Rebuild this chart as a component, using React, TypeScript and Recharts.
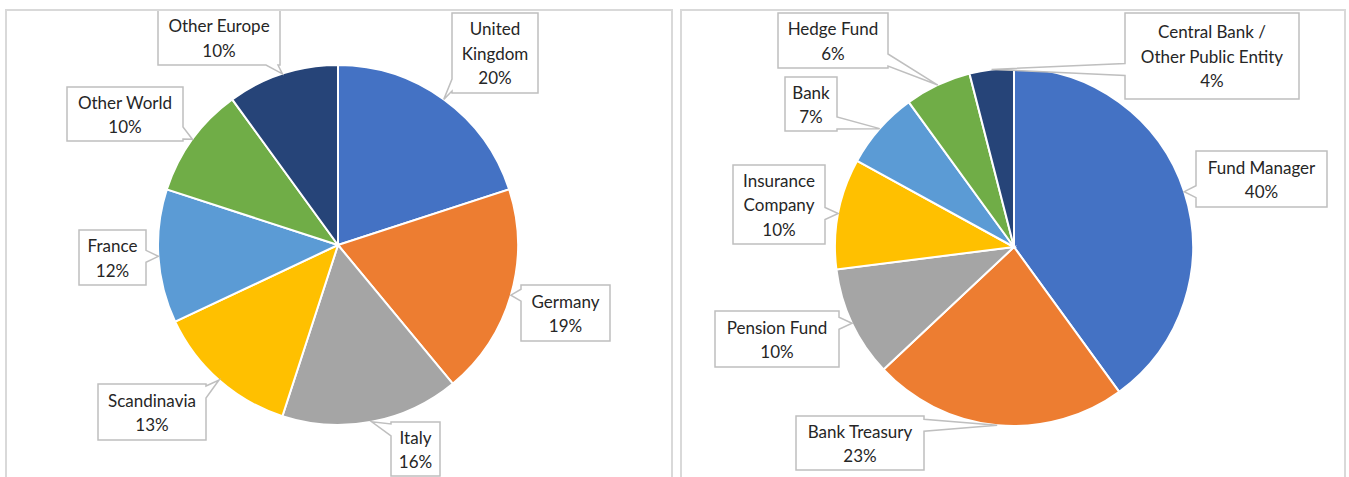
import React from 'react';
import { PieChart, Pie, Cell } from 'recharts';

// Left chart: investor split by region (%)
const regionLabels = [['United', 'Kingdom'], ['Germany'], ['Italy'], ['Scandinavia'], ['France'], ['Other World'], ['Other Europe']];
const regionShares = [20, 19, 16, 13, 12, 10, 10];

// Right chart: investor split by type (%)
const investorLabels = [['Fund Manager'], ['Bank Treasury'], ['Pension Fund'], ['Insurance', 'Company'], ['Bank'], ['Hedge Fund'], ['Central Bank /', 'Other Public Entity']];
const investorShares = [40, 23, 10, 10, 7, 6, 4];

const sliceColors = ['#4472C4', '#ED7D31', '#A5A5A5', '#FFC000', '#5B9BD5', '#70AD47', '#264478'];

// callout boxes, [dx, dy, w, h] from the pie centre
const regionBoxes = [
  [114, -232, 86, 80],
  [183, 40, 89, 56],
  [53, 177, 49, 54],
  [-240, 139, 108, 56],
  [-259, -15, 67, 55],
  [-271, -158, 116, 54],
  [-180, -235, 122, 55],
];
const investorBoxes = [
  [182, -96, 131, 56],
  [-218, 169, 128, 54],
  [-299, 64, 124, 56],
  [-281, -82, 92, 79],
  [-229, -170, 52, 54],
  [-236, -234, 110, 55],
  [111, -234, 174, 86],
];

const RAD = Math.PI / 180;
const LINE_H = 24.5;

function calloutPath(x: number, y: number, w: number, h: number, tx: number, ty: number) {
  const mx = x + w / 2;
  const my = y + h / 2;
  const nx = (tx - mx) / (w / 2);
  const ny = (ty - my) / (h / 2);
  const bw = 12;
  const clamp = (v: number, lo: number, hi: number) => Math.max(lo, Math.min(hi, v));
  if (Math.abs(nx) > Math.abs(ny)) {
    const b0 = clamp(ty - bw / 2, y + 2, y + h - bw - 2);
    if (nx < 0) {
      return `M${x},${y} H${x + w} V${y + h} H${x} V${b0 + bw} L${tx},${ty} L${x},${b0} Z`;
    }
    return `M${x},${y} H${x + w} V${b0} L${tx},${ty} L${x + w},${b0 + bw} V${y + h} H${x} Z`;
  }
  const b0 = clamp(tx - bw / 2, x + 2, x + w - bw - 2);
  if (ny < 0) {
    return `M${x},${y} H${b0} L${tx},${ty} L${b0 + bw},${y} H${x + w} V${y + h} H${x} Z`;
  }
  return `M${x},${y} H${x + w} V${y + h} H${b0 + bw} L${tx},${ty} L${b0},${y + h} H${x} Z`;
}

function makeCallout(labels: string[][], shares: number[], boxes: number[][]) {
  return (props: any) => {
    const { cx, cy, midAngle, outerRadius, index } = props;
    const tx = cx + outerRadius * Math.cos(-midAngle * RAD);
    const ty = cy + outerRadius * Math.sin(-midAngle * RAD);
    const [dx, dy, w, h] = boxes[index];
    const x = cx + dx;
    const y = cy + dy;
    const lines = [...labels[index], `${shares[index]}%`];
    const top = y + (h - lines.length * LINE_H) / 2 + LINE_H * 0.78;
    return (
      <g key={`callout-${index}`}>
        <path d={calloutPath(x, y, w, h, tx, ty)} fill="#fff" stroke="#BFBFBF" strokeWidth={1.5} />
        <text x={x + w / 2} textAnchor="middle" fontSize={17} fill="#262626" fontFamily="Lato, 'Open Sans', sans-serif">
          {lines.map((ln, i) => (
            <tspan key={i} x={x + w / 2} y={top + i * LINE_H}>{ln}</tspan>
          ))}
        </text>
      </g>
    );
  };
}

const regionData = regionLabels.map((l, i) => ({ name: l.join(' '), value: regionShares[i] }));
const investorData = investorLabels.map((l, i) => ({ name: l.join(' '), value: investorShares[i] }));

const panelStyle: React.CSSProperties = {
  position: 'absolute',
  top: 9,
  height: 480,
  border: '2px solid #D9D9D9',
  boxSizing: 'border-box',
  background: '#fff',
};

export default function App() {
  return (
    <div style={{ position: 'absolute', left: 0, top: 0, width: 1349, height: 477, overflow: 'hidden', background: '#fff' }}>
      <div style={{ ...panelStyle, left: 5, width: 668 }}>
        <PieChart width={664} height={476} margin={{ top: 0, right: 0, bottom: 0, left: 0 }}>
          <Pie
            data={regionData}
            dataKey="value"
            cx={331}
            cy={234}
            outerRadius={180}
            startAngle={90}
            endAngle={-270}
            stroke="#fff"
            strokeWidth={2}
            labelLine={false}
            label={makeCallout(regionLabels, regionShares, regionBoxes)}
            isAnimationActive={false}
          >
            {regionData.map((d, i) => (
              <Cell key={d.name} fill={sliceColors[i]} />
            ))}
          </Pie>
        </PieChart>
      </div>
      <div style={{ ...panelStyle, left: 680, width: 666 }}>
        <PieChart width={662} height={476} margin={{ top: 0, right: 0, bottom: 0, left: 0 }}>
          <Pie
            data={investorData}
            dataKey="value"
            cx={332}
            cy={236}
            outerRadius={179}
            startAngle={90}
            endAngle={-270}
            stroke="#fff"
            strokeWidth={2}
            labelLine={false}
            label={makeCallout(investorLabels, investorShares, investorBoxes)}
            isAnimationActive={false}
          >
            {investorData.map((d, i) => (
              <Cell key={d.name} fill={sliceColors[i]} />
            ))}
          </Pie>
        </PieChart>
      </div>
    </div>
  );
}
